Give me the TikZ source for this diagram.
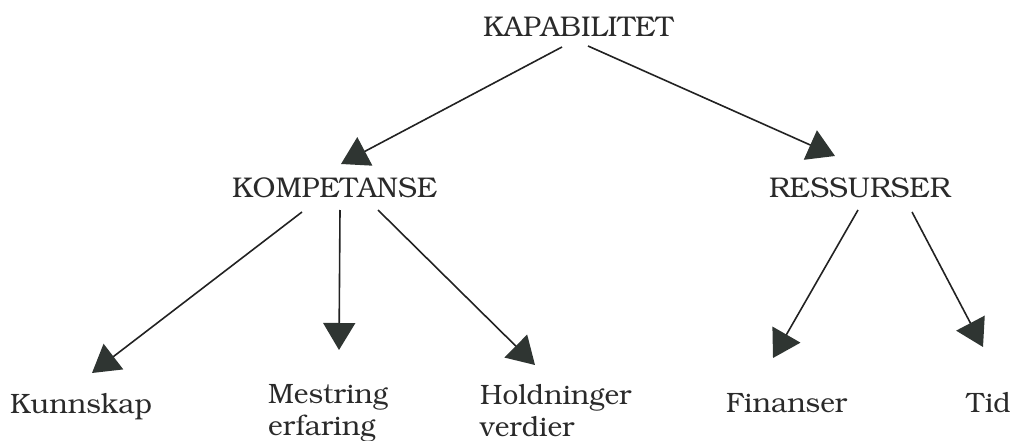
\documentclass[tikz,border=0pt]{standalone}
\usepackage[T1]{fontenc}
\usepackage{bookman}
\usetikzlibrary{arrows.meta}
\definecolor{linec}{HTML}{222222}
\definecolor{tipc}{HTML}{2F3532}
\definecolor{textc}{HTML}{2A2A2A}
\begin{document}
\begin{tikzpicture}[x=1pt,y=-1pt,
  caps/.style={inner sep=0, anchor=base west, text=textc, font=\fontsize{28.5}{32}\selectfont},
  lbl/.style={inner sep=0, anchor=base west, align=left, text=textc, font=\fontsize{28}{32}\selectfont},
  arr/.style={draw=linec, line width=1.6pt, -{Triangle[length=27pt,width=32pt,color=tipc]}}]
\useasboundingbox (0,0) rectangle (1014,441);
\node[caps] (kap) at (483,37) {KAPABILITET};
\node[caps] (komp) at (232,197) {KOMPETANSE};
\node[caps] (res) at (769,197) {RESSURSER};
\node[lbl] (kunn) at (10,413) {Kunnskap};
\node[lbl] (mest) at (268,435) {Mestring\\erfaring};
\node[lbl] (hold) at (480,436) {Holdninger\\verdier};
\node[lbl] (fin) at (726,412) {Finanser};
\node[lbl, anchor=base east] (tid) at (1011,412) {Tid};
% connector end points
\coordinate (a1) at (562,47);  \coordinate (b1) at (341,164);
\coordinate (a2) at (588,46);  \coordinate (b2) at (835,156);
\coordinate (a3) at (302,212); \coordinate (b3) at (92,373);
\coordinate (a4) at (340,210); \coordinate (b4) at (339,350);
\coordinate (a5) at (378,210); \coordinate (b5) at (535,365);
\coordinate (a6) at (858,210); \coordinate (b6) at (773,358);
\coordinate (a7) at (912,212); \coordinate (b7) at (983,347);
\draw[arr] (a1) -- (b1);
\draw[arr] (a2) -- (b2);
\draw[arr] (a3) -- (b3);
\draw[arr] (a4) -- (b4);
\draw[arr] (a5) -- (b5);
\draw[arr] (a6) -- (b6);
\draw[arr] (a7) -- (b7);
\end{tikzpicture}
\end{document}
